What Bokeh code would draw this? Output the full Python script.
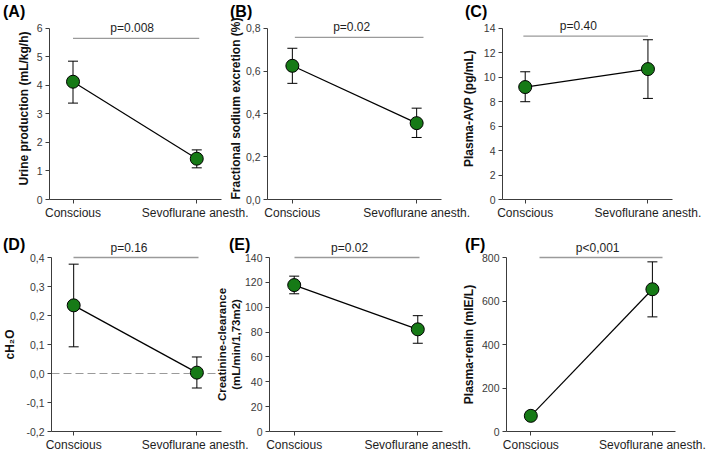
from bokeh.plotting import figure
from bokeh.layouts import column, row
from bokeh.models import (ColumnDataSource, Whisker, TeeHead, Label, Span, Div, LinearAxis,
                          FixedTicker, CustomJSTickFormatter, Range1d)
from bokeh.embed import file_html
from bokeh.resources import INLINE

FONT = "Liberation Sans"

# ---------------- data ----------------
categories = ["Conscious", "Sevoflurane anesth."]
x_idx = [0, 1]

urine_mean = [4.13, 1.43]
urine_lower = [3.38, 1.11]
urine_upper = [4.85, 1.74]

fena_mean = [0.625, 0.357]
fena_lower = [0.543, 0.290]
fena_upper = [0.707, 0.427]

avp_mean = [9.2, 10.67]
avp_lower = [8.0, 8.27]
avp_upper = [10.45, 13.07]

ch2o_mean = [0.235, 0.003]
ch2o_lower = [0.092, -0.050]
ch2o_upper = [0.377, 0.057]

crcl_mean = [117.8, 82.2]
crcl_lower = [110.8, 71.0]
crcl_upper = [125.0, 93.2]

renin_mean = [72, 654]
renin_lower = [72, 527]
renin_upper = [72, 780]

panel_letters = ["(A)", "(B)", "(C)", "(D)", "(E)", "(F)"]
p_texts = ["p=0.008", "p=0.02", "p=0.40", "p=0.16", "p=0.02", "p<0,001"]
bracket_levels = [5.65, 0.758, 13.36, 0.4, 140, 800]
y_labels = ["Urine production (mL/kg/h)",
            "Fractional sodium excretion (%)",
            "Plasma-AVP (pg/mL)",
            "cH\u2082O",
            "Creatinine-clearance\n(mL/min/1,73m2)",
            "Plasma-renin (mIE/L)"]
y_ticks_A = [0, 1, 2, 3, 4, 5, 6]
y_ticks_B = [0.0, 0.2, 0.4, 0.6, 0.8]
y_ticks_C = [0, 2, 4, 6, 8, 10, 12, 14]
y_ticks_D = [-0.2, -0.1, 0.0, 0.1, 0.2, 0.3, 0.4]
y_ticks_E = [0, 20, 40, 60, 80, 100, 120, 140]
y_ticks_F = [0, 200, 400, 600, 800]

# ---------------- layout options ----------------
# ft: frame top (px from canvas top, shared within a row); top: px of highest tick; bb: bottom border
# bx: bracket extent (x units); tx: shift of the p-value text (x units)
panels = [
    dict(mean=urine_mean, lower=urine_lower, upper=urine_upper, ticks=y_ticks_A, comma=False,
         w=248, h=222, ft=17, top=28, bb=21, bl=49, br=27, mr=-28, xr=(-0.19, 1.2),
         bx=(0.0, 1.02), tx=-0.032, ylso=3, div=(4, 3, 26), top_axis=False),
    dict(mean=fena_mean, lower=fena_lower, upper=fena_upper, ticks=y_ticks_B, comma=True,
         w=256, h=222, ft=17, top=28, bb=21, bl=47, br=35, mr=-18, xr=(-0.2, 1.2),
         bx=(0.02, 1.055), tx=-0.06, ylso=0, div=(4, 10, 26), top_axis=False),
    dict(mean=avp_mean, lower=avp_lower, upper=avp_upper, ticks=y_ticks_C, comma=False,
         w=251, h=222, ft=17, top=28, bb=21, bl=42, br=37, mr=0, xr=(-0.185, 1.2),
         bx=(-0.015, 1.0), tx=-0.06, ylso=5, div=(4, 7, 26), top_axis=False),
    dict(mean=ch2o_mean, lower=ch2o_lower, upper=ch2o_upper, ticks=y_ticks_D, comma=True,
         w=248, h=233, ft=35, top=35, bb=24, bl=50, br=27, mr=-36, xr=(-0.18, 1.2),
         bx=(0.0, 1.01), tx=-0.056, ylso=6, div=(15, 3, 26), top_axis=True),
    dict(mean=crcl_mean, lower=crcl_lower, upper=crcl_upper, ticks=y_ticks_E, comma=False,
         w=264, h=233, ft=35, top=35, bb=24, bl=56, br=34, mr=-18, xr=(-0.2, 1.2),
         bx=(0.0, 1.016), tx=-0.06, ylso=0, div=(15, 17, 26), top_axis=True),
    dict(mean=renin_mean, lower=renin_lower, upper=renin_upper, ticks=y_ticks_F, comma=False,
         w=251, h=233, ft=35, top=35, bb=24, bl=45, br=34, mr=0, xr=(-0.2, 1.19),
         bx=(0.07, 1.08), tx=-0.025, ylso=3, div=(15, 7, 26), top_axis=True),
]

GREEN = "#167a16"
AXIS_COL = "#3c3c3c"
BRACKET_COL = "#9a9a9a"


def make_panel(i, cfg):
    ticks = cfg["ticks"]
    ymin, ymax = ticks[0], ticks[-1]
    axis_px = cfg["h"] - cfg["bb"]
    y_end = ymax + (ymax - ymin) * (cfg["top"] - cfg["ft"]) / (axis_px - cfg["top"])
    p = figure(width=cfg["w"], height=cfg["h"], output_backend="svg",
               toolbar_location=None, title=None,
               x_range=Range1d(*cfg["xr"]), y_range=Range1d(ymin, y_end),
               min_border_left=cfg["bl"], min_border_right=cfg["br"],
               min_border_top=cfg["ft"], min_border_bottom=cfg["bb"],
               border_fill_color=None, background_fill_color=None,
               outline_line_color=None, margin=(0, cfg["mr"], 0, 0))
    p.grid.visible = False

    # x axis
    xa = p.xaxis[0]
    xa.ticker = FixedTicker(ticks=x_idx)
    xa.major_label_overrides = {k: c for k, c in zip(x_idx, categories)}
    xa.axis_line_color = AXIS_COL
    xa.major_tick_line_color = AXIS_COL
    xa.major_tick_out = 4
    xa.major_tick_in = 0
    xa.minor_tick_line_color = None
    xa.major_label_standoff = 2
    xa.major_label_text_font = FONT
    xa.major_label_text_font_size = "12px"
    xa.major_label_text_color = "#1e1e1e"

    # y axis
    ya = p.yaxis[0]
    ya.bounds = (ymin, ymax)
    ya.ticker = FixedTicker(ticks=ticks)
    if cfg["comma"]:
        ya.formatter = CustomJSTickFormatter(code="return tick.toFixed(1).replace('.', ',');")
    ya.axis_line_color = AXIS_COL
    ya.major_tick_line_color = AXIS_COL
    ya.major_tick_out = 4
    ya.major_tick_in = 0
    ya.minor_tick_line_color = None
    ya.major_label_standoff = 3
    ya.major_label_text_font = FONT
    ya.major_label_text_font_size = "10.5px"
    ya.major_label_text_color = "#3a3a3a"
    ya.axis_label = y_labels[i]
    ya.axis_label_text_font = FONT
    ya.axis_label_text_font_style = "bold"
    ya.axis_label_text_font_size = "11.5px" if "\n" in y_labels[i] else "12px"
    ya.axis_label_text_color = "#111111"
    ya.axis_label_standoff = cfg["ylso"]

    if ymin < 0:
        p.add_layout(Span(location=0, dimension="width", line_color=BRACKET_COL,
                          line_dash="8 4", line_width=1.2, level="underlay"))

    src = ColumnDataSource(dict(x=x_idx, mean=cfg["mean"], lower=cfg["lower"], upper=cfg["upper"]))
    p.add_layout(Whisker(source=src, base="x", lower="lower", upper="upper",
                         line_color="black", line_width=1,
                         upper_head=TeeHead(size=10, line_color="black", line_width=1),
                         lower_head=TeeHead(size=10, line_color="black", line_width=1)))
    p.line("x", "mean", source=src, line_color="black", line_width=1.2)
    p.scatter("x", "mean", source=src, marker="circle", size=13,
              fill_color=GREEN, line_color="black", line_width=1)

    by = bracket_levels[i]
    bx0, bx1 = cfg["bx"]
    tx = (bx0 + bx1) / 2 + cfg["tx"]
    if cfg["top_axis"]:
        # bracket sits on the top edge: draw it as a bounded top axis carrying the p-value
        ta = LinearAxis(ticker=FixedTicker(ticks=[tx]),
                        formatter=CustomJSTickFormatter(args=dict(t=p_texts[i]), code="return t;"),
                        bounds=(bx0, bx1))
        ta.axis_line_color = BRACKET_COL
        ta.axis_line_width = 1.3
        ta.major_tick_line_color = None
        ta.major_tick_out = 0
        ta.major_tick_in = 0
        ta.minor_tick_line_color = None
        ta.major_label_standoff = 3
        ta.major_label_text_font = FONT
        ta.major_label_text_font_size = "12px"
        ta.major_label_text_color = "#1e1e1e"
        p.add_layout(ta, "above")
    else:
        p.segment(x0=[bx0], y0=[by], x1=[bx1], y1=[by], line_color=BRACKET_COL, line_width=1.3)
        p.add_layout(Label(x=tx, y=by, text=p_texts[i], text_align="center",
                           text_baseline="bottom", y_offset=3, text_font=FONT,
                           text_font_size="12px", text_color="#1e1e1e"))

    mt, ml, dw = cfg["div"]
    letter = Div(text=panel_letters[i], width=dw, height=20,
                 margin=(mt, -(ml + dw), 0, ml),
                 styles={"font-family": FONT, "font-size": "16px", "font-weight": "bold",
                         "line-height": "16px", "color": "black", "white-space": "nowrap"})
    return letter, p


items = [make_panel(i, c) for i, c in enumerate(panels)]
row1 = row(*[m for pair in items[:3] for m in pair])
row2 = row(*[m for pair in items[3:] for m in pair])
layout = column(row1, row2)

open("out.html", "w").write(file_html(layout, INLINE))
